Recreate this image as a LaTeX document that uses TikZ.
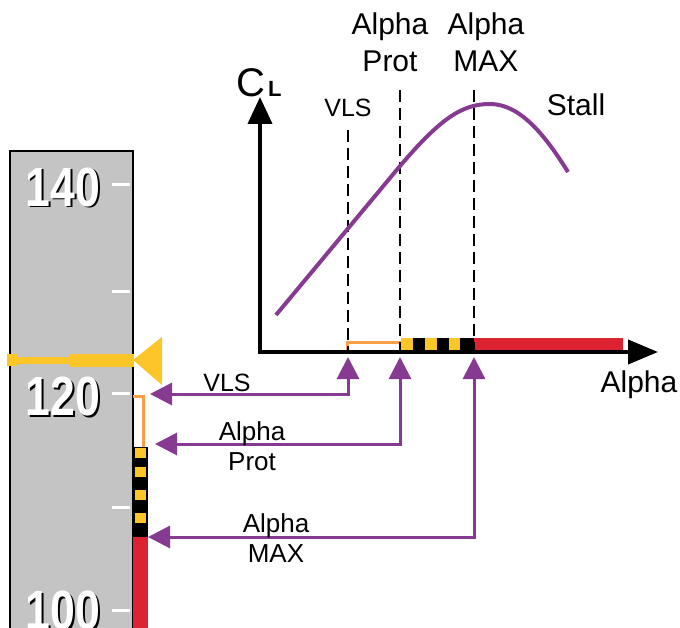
\documentclass[tikz,border=0pt]{standalone}
\usepackage{fontspec}
\setmainfont{Liberation Sans}
\usepackage{graphicx}
\usetikzlibrary{arrows.meta, positioning}
\definecolor{tapegray}{RGB}{196, 196, 196}
\definecolor{spdyellow}{RGB}{252, 198, 40}
\definecolor{protorange}{RGB}{248, 160, 72}
\definecolor{stallred}{RGB}{220, 35, 50}
\definecolor{plum}{RGB}{135, 58, 145}

\begin{document}
\begin{tikzpicture}[x=1pt, y=-1pt,
  axarr/.style={{Triangle[length=27pt, width=24pt]}-{Triangle[length=30pt, width=24pt]},
    line width=4pt},
  parr/.style={{Triangle[length=22pt, width=22pt]}-{Triangle[length=22pt, width=22pt]},
    line width=3pt, color=plum},
  dsh/.style={dash pattern=on 12pt off 6pt, line width=2.5pt},
  lbl/.style={font=\fontsize{30pt}{37pt}\selectfont, align=center, inner sep=0pt},
  slbl/.style={font=\fontsize{26pt}{30pt}\selectfont, align=center, inner sep=0pt},
  spd/.style={font=\fontsize{46pt}{46pt}\selectfont\bfseries, inner sep=0pt}
]
\useasboundingbox (0,0) rectangle (680,628);

% speed tape
\draw[fill=tapegray, line width=2pt] (10,151) rectangle (133,640);
\foreach \y in {185,292,393,507,610}
  \draw[white, line width=3pt] (112,\y) -- (130,\y);
\foreach \v/\y in {140/187,120/396,100/610} {
  \node[spd, text=black] at (65,\y+2) (sh\v) {\scalebox{0.97}[1.2]{\v}};
  \node[spd, text=white] at (63,\y) (s\v) {\scalebox{0.97}[1.2]{\v}};
}

% speed index
\fill[spdyellow] (7,354) rectangle (18,366);
\fill[spdyellow] (18,357) rectangle (70,364);
\fill[spdyellow] (70,354) rectangle (134,367);
\fill[spdyellow] (133,360) -- (162,337) -- (162,385) -- cycle;

% protection band on tape
\draw[protorange, line width=3pt] (133,396) -- (143,396) -- (143,448);
\fill[black] (133,447) rectangle (148,537);
\foreach \y in {448,467,490,513}
  \fill[spdyellow] (135,\y) rectangle (146,\y+10);
\fill[stallred] (133,537) rectangle (148,640);

% lift curve axes
\coordinate (o) at (260,352);
\coordinate (ytip) at (260,97);
\coordinate (xtip) at (658,352);
\draw[protorange, line width=3pt] (347,351) -- (347,342) -- (401,342);
\fill[spdyellow] (401,338) rectangle (474,350);
\foreach \x in {413,437,460}
  \fill[black] (\x,338) rectangle (\x+12,350);
\fill[black] (460,338) rectangle (474,350);
\fill[stallred] (474,338) rectangle (623,350);
\draw[axarr] (ytip) -- (o) -- (xtip);

\node[font=\fontsize{40pt}{40pt}\selectfont, inner sep=0pt] at (259,83) (cl)
  {C\hspace{3pt}{\fontsize{22pt}{22pt}\selectfont\bfseries L}};
\node[lbl] at (639,385) (alpha) {Alpha};

% limits
\coordinate (vlsD) at (348,130);
\coordinate (protD) at (400,90);
\coordinate (maxD) at (474,90);
\draw[dsh] (vlsD) -- (348,350);
\draw[dsh] (protD) -- (400,350);
\draw[dsh] (maxD) -- (474,350);
\node[slbl, font=\fontsize{25pt}{30pt}\selectfont] at (348,108) (vlstop) {VLS};
\node[lbl] at (390,42) (prottop) {Alpha\\Prot};
\node[lbl] at (486,42) (maxtop) {Alpha\\MAX};
\node[lbl] at (576,105) (stall) {Stall};

% lift curve
\draw[plum, line width=4pt] (276,315) -- (395,172)
  .. controls (440,118) and (462,104) .. (490,104)
  .. controls (520,104) and (545,135) .. (568,172);

% links alpha -> speed
\coordinate (vlsB) at (348,357);
\coordinate (protB) at (400,357);
\coordinate (maxB) at (474,357);
\coordinate (vlsT) at (150,394);
\coordinate (protT) at (155,444);
\coordinate (maxT) at (148,537);
\draw[parr] (vlsT) -| (vlsB);
\draw[parr] (protT) -| (protB);
\draw[parr] (maxT) -| (maxB);
\node[slbl, font=\fontsize{25pt}{30pt}\selectfont] at (227,383) (vlsbot) {VLS};
\node[slbl] at (252,446) (protbot) {Alpha\\Prot};
\node[slbl] at (276,538) (maxbot) {Alpha\\MAX};
\end{tikzpicture}
\end{document}
